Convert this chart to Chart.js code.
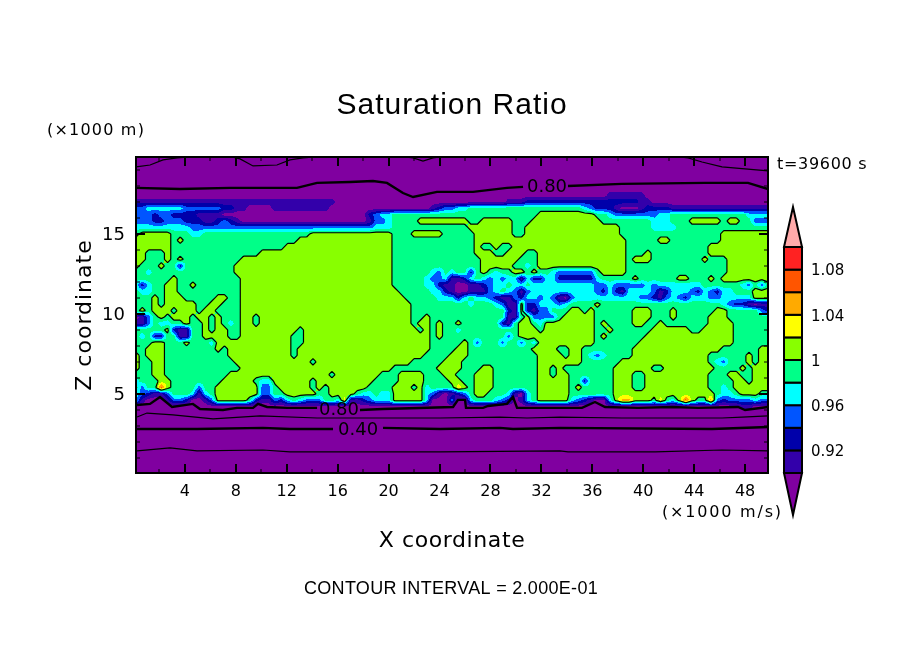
<!DOCTYPE html>
<html>
<head>
    <title>Saturation Ratio</title>
    <style>
        body { margin: 0; background: white; }
        canvas { display: block; }
    </style>
</head>
<body>
<canvas id="chart" width="904" height="654"></canvas>

<script src="https://cdn.jsdelivr.net/npm/chart.js"></script>
<script>
    const xMin = 0.157, xMax = 49.8;
    const yMin = 0.0625, yMax = 19.81;
    const xMajorTicks = [4, 8, 12, 16, 20, 24, 28, 32, 36, 40, 44, 48];
    const xMinorTicks = [2, 6, 10, 14, 18, 22, 26, 30, 34, 38, 42, 46];
    const yMajorTicks = [5, 10, 15];
    const yMinorTicks = [1, 2, 3, 4, 6, 7, 8, 9, 11, 12, 13, 14, 16, 17, 18, 19];

    const bandColors = ['#8000a0', '#3300aa', '#0000aa', '#0055ff', '#00ffff', '#00ff88',
                        '#88ff00', '#ffff00', '#ffaa00', '#ff5500', '#ff2222', '#ffaaaa'];
    const colorbarLabels = ['0.92', '0.96', '1', '1.04', '1.08'];

    // band index per grid node (0 = below 0.90 ... a = above 1.08), top row first,
    // 101 nodes across, rows 0.4 km apart. rows left out are all band 0
    const fieldRows = [
        '0', '0', '0', '0', '0', '0',
        '0000000000 0000000000 0000000000 0000000000 0000000000 0000000000 0000000000 0000011111 1000000000 0000000000 0',
        '1111111111 1111111111 1111111111 1100000000 0000000000 0000000001 1122222222 2222222222 1100000000 0000000000 0',
        '3344444433 3333221100 0011111111 1000000000 0000000123 3445555555 5555555555 5432221000 1222211111 1111111111 1',
        '3332332222 1111000000 0000000000 0000000234 4555555555 5555555555 5555666666 6665543333 3334455555 5555555444 4',
        '3332233322 2112321000 0000000000 0000000133 4555566666 6665566666 5556666666 6666555555 5544455566 6665665533 3',
        '4444444443 3333333333 3333333333 3333333344 4555555555 5556666666 5566666666 6666666555 5544445555 5555555555 5',
        '5666665554 4555555555 5555555566 6666666666 6555666665 5555666666 5566666666 6666666555 5555555555 5556666666 6',
        '6666665655 5555555555 5555556666 6666666666 6555555555 5555666666 6666666666 6666666655 5556655555 5556666666 6',
        '6666665555 5555555555 5555666666 6666666666 6555555555 5555655655 6666666666 6666666655 5555555555 5666666666 6',
        '6655565555 5555555555 6666666666 6666666666 6555555555 5555666556 6655666666 6666666655 5655555555 5666666666 6',
        '6655565655 5555555666 6666666666 6666666666 6555555555 5555566666 6555666666 6666666656 6655555555 6555666666 6',
        '6555655255 5555556666 6666666666 6666666666 6555555555 5555566666 5545666666 6666666655 5555555555 5555666666 6',
        '5545555555 5555556666 6666666666 6666666666 6555555435 4552565455 6656554333 3335666655 5555555555 5555666666 6',
        '5555556555 5555555666 6666666666 6666666666 6555554334 1124543434 4142244222 2224555556 5555556655 5656666666 6',
        '4245566556 5555555666 6666666666 6666666666 6555554421 1001123445 4454444444 4443343333 3434444444 5555554353 5',
        '5445566555 5555555666 6666666666 6666666666 6655555442 1001113454 3134444444 4443242144 4431244432 4324455566 6',
        '5556566655 5556655666 6666666666 6666666666 6665555544 4245443211 3244343103 4444444444 3321343244 4334444466 6',
        '5556566666 5566555666 6666666666 6666666666 6666555555 5554555431 1622444345 5556555555 5555555555 5554322101 1',
        '5656665666 5665555666 6666666666 6666666666 6666555555 5555555552 1621335556 6565555556 6655565555 5566555553 2',
        '0135656665 6656555665 6666666666 6666666666 6666556555 5555555551 1563333566 6665555556 6655565555 5666555555 5',
        '1135445565 5656545665 6666666666 6666666666 6666566565 5655555521 5665466666 6665655556 6556555555 5666655555 5',
        '5555562115 5656655666 6666665666 6666666666 6666656565 5455555555 5666566666 6665565555 5566666655 6666655555 5',
        '5452255115 5666655666 6666655666 6666666666 6666666565 5555555553 5666666666 6665655555 5666666666 6666655555 5',
        '5556655565 5546666666 6666655666 6666666666 6666666555 5565355535 5354666666 6665555555 6666666666 6666655555 5',
        '5566655555 5556566666 6666656666 6666666666 6666666555 5665555555 5556666556 6555555556 6666666666 6665555556 6',
        '6566655555 5555566666 6666656666 6666666666 6666665555 6665555555 5555666656 6543455556 6666666666 6555555656 6',
        '6556655555 5555556666 6666666656 6666666666 6666555556 6655555555 5555666666 6555555666 6666666666 6543555656 6',
        '6556655555 5555555666 6666666666 6666666666 6555555566 6655566555 5555665655 5555556666 6655666666 6655556566 6',
        '5556655555 5555566666 6666666666 6566666665 5566665556 6555666555 5555665665 5555556665 5666666666 6555665566 6',
        '4555665555 5555666665 4466666656 6666666655 5566665555 6655666555 5555666665 5255556665 5666666666 6555566566 6',
        '5355965555 3556666666 3356666656 5666666555 5666564555 5765666555 5555666665 6555556665 5666666666 6554566666 6',
        '4321135554 1456666666 3355666665 5666654454 4666664310 1235665554 1045666665 5555556666 6666666666 6654456665 5',
        '4100013320 0136666652 1132454333 5547112344 4666664000 3004555432 0145666664 3210046886 6657546965 5832333343 3',
        '0000000000 0000000000 0000000000 0000000000 0000000000 0000000000 0000000000 0000000000 0000000000 0000001100 0'
    ].map(r => r.replace(/ /g, ''));

    // contour lines, NaN leaves a gap
    const topThinX = [0.16, 1.26, 2.28, 3.38, 4.4, NaN, 7.7, 8.33, 9.35, 11.23, 12.25, 13.28, 14.2, NaN, 21.29, 21.92, 22.7, 23.49, 24.04, NaN, 42.89, 43.52, 44.62, 46.19, 49.8];
    const topThinY = [19.19, 19.31, 19.63, 19.75, 19.81, NaN, 19.81, 19.69, 19.25, 19.31, 19.63, 19.75, 19.81, NaN, 19.81, 19.75, 19.56, 19.75, 19.81, NaN, 19.81, 19.75, 19.5, 19.19, 18.94];
    const top080X = [0.16, 3.61, 7.54, 12.8, 14.38, 16.97, 18.77, 19.87, 21.13, 21.92, 23.8, 26.63, 29.3, 30.56, NaN, 34.09, 38.33, 44.85, 48.23, 49.8];
    const top080Y = [17.88, 17.81, 17.88, 17.88, 18.19, 18.25, 18.31, 18.19, 17.56, 17.31, 17.63, 17.63, 17.88, 17.94, NaN, 18, 18.13, 18.19, 18.19, 17.81];
    const low080X = [0.24, 1.26, 2.04, 2.99, 4.63, 5.18, 6.99, 8.09, 9.35, 9.74, 10.45, 12.02, 14.38, NaN, 17.75, 19.56, 25.06, 25.45, 26, 26.08, 27.42, 27.81, 29.3, 29.77, 30.09, 33.46, 35.19, 36.21, 37, 39.59, 42.26, 44.3, 47.45, 48, 49.8];
    const low080Y = [4.31, 4.38, 4.81, 4.19, 4.38, 4.06, 4, 4.13, 4.13, 4.38, 4.19, 4.13, 4.13, NaN, 4, 4.06, 4.19, 4.63, 4.63, 4.13, 4.13, 4.25, 4.38, 4.81, 4.13, 4.13, 4.13, 4.5, 4.19, 4.13, 4.19, 4.13, 4.19, 4, 4.19];
    const low060X = [0.24, 1.02, 3.06, 6.21, 9.9, 14.38, 24.04, 28.75, 30.87, 33.46, 38.33, 46.19, 47.76, 49.8];
    const low060Y = [3.56, 3.81, 3.69, 3.44, 3.63, 3.5, 3.5, 3.56, 3.5, 3.56, 3.5, 3.5, 3.56, 3.63];
    const low040X = [0.24, 4.95, 10.13, 12.25, 15.63, NaN, 19.56, 24.04, 28.75, 29.77, 33.46, 45.4, 49.8];
    const low040Y = [2.81, 2.81, 2.88, 2.81, 2.81, NaN, 2.88, 2.81, 2.88, 2.81, 2.88, 2.81, 2.94];
    const low020X = [0.24, 2.83, 4.95, 10.13, 12.25, 16.97, 24.04, 33.46, 34.09, 40.93, 46.19, 49.8];
    const low020Y = [1.44, 1.63, 1.44, 1.5, 1.38, 1.38, 1.38, 1.44, 1.38, 1.38, 1.5, 1.44];

    const contourLabels = [
        { text: '0.80', x: 32.44, y: 18 },
        { text: '0.80', x: 16.1, y: 4.06 },
        { text: '0.40', x: 17.6, y: 2.81 }
    ];

    const nodeCols = 101;
    const nodeDx = (xMax - xMin) / (nodeCols - 1);
    const nodeDy = 0.4;

    function nodeValue(i, j) {
        const row = fieldRows[i];
        if (!row || j >= row.length) return 0;
        return parseInt(row[j], 16);
    }

    function fieldAt(col, row) {
        const i = Math.floor(row), j = Math.min(Math.floor(col), nodeCols - 2);
        const fx = col - j, fy = row - i;
        const top = nodeValue(i, j) * (1 - fx) + nodeValue(i, j + 1) * fx;
        const bottom = nodeValue(i + 1, j) * (1 - fx) + nodeValue(i + 1, j + 1) * fx;
        return top * (1 - fy) + bottom * fy;
    }

    // 1.0 contour: the edge between band 5 and band 6
    function contourPoints(level) {
        const pts = [];
        const xAt = c => xMin + c * nodeDx;
        const yAt = r => yMax - r * nodeDy;
        for (let i = 0; i < fieldRows.length; i++) {
            for (let j = 0; j < nodeCols - 1; j++) {
                const a = nodeValue(i, j), b = nodeValue(i, j + 1);
                const c = nodeValue(i + 1, j + 1), d = nodeValue(i + 1, j);
                const cross = [];
                if ((a > level) !== (b > level)) cross.push({ x: xAt(j + (level - a) / (b - a)), y: yAt(i) });
                if ((b > level) !== (c > level)) cross.push({ x: xAt(j + 1), y: yAt(i + (level - b) / (c - b)) });
                if ((d > level) !== (c > level)) cross.push({ x: xAt(j + (level - d) / (c - d)), y: yAt(i + 1) });
                if ((a > level) !== (d > level)) cross.push({ x: xAt(j), y: yAt(i + (level - a) / (d - a)) });
                for (let k = 0; k + 1 < cross.length; k += 2) {
                    pts.push(cross[k], cross[k + 1], { x: NaN, y: NaN });
                }
            }
        }
        return pts;
    }

    function lineSet(xs, ys, width) {
        return {
            data: xs.map((x, i) => ({ x: x, y: ys[i] })),
            showLine: true,
            spanGaps: false,
            borderColor: '#000',
            borderWidth: width,
            pointRadius: 0,
            tension: 0
        };
    }

    const fieldPlugin = {
        id: 'field',
        beforeDatasetsDraw(chart) {
            const ctx = chart.ctx, area = chart.chartArea;
            const sx = chart.scales.x, sy = chart.scales.y;
            ctx.save();
            ctx.fillStyle = bandColors[0];
            ctx.fillRect(area.left, area.top, area.right - area.left, area.bottom - area.top);
            for (let py = Math.floor(area.top); py < area.bottom; py++) {
                const row = (yMax - sy.getValueForPixel(py + 0.5)) / nodeDy;
                if (row < 0 || row >= fieldRows.length) continue;
                let start = Math.floor(area.left), band = -1;
                for (let px = start; px <= area.right; px++) {
                    let b = -2;
                    if (px < area.right) {
                        const col = Math.max(0, (sx.getValueForPixel(px + 0.5) - xMin) / nodeDx);
                        b = Math.round(fieldAt(col, row));
                    }
                    if (b !== band) {
                        if (band > 0) {
                            ctx.fillStyle = bandColors[band];
                            ctx.fillRect(start, py, px - start, 1);
                        }
                        start = px;
                        band = b;
                    }
                }
            }
            ctx.restore();
        }
    };

    function drawTicks(chart, values, length, width) {
        const ctx = chart.ctx, area = chart.chartArea;
        ctx.lineWidth = width;
        ctx.beginPath();
        values.x.forEach(v => {
            const p = Math.round(chart.scales.x.getPixelForValue(v));
            ctx.moveTo(p, area.top);
            ctx.lineTo(p, area.top + length);
            ctx.moveTo(p, area.bottom);
            ctx.lineTo(p, area.bottom - length);
        });
        values.y.forEach(v => {
            const p = Math.round(chart.scales.y.getPixelForValue(v));
            ctx.moveTo(area.left, p);
            ctx.lineTo(area.left + length, p);
            ctx.moveTo(area.right, p);
            ctx.lineTo(area.right - length, p);
        });
        ctx.stroke();
    }

    function drawColorbar(ctx) {
        const left = 784, right = 802, top = 247, segH = 22.6;
        const mid = (left + right) / 2;
        ctx.strokeStyle = '#000';
        ctx.lineWidth = 2;
        // bands 1..10 from the bottom of the bar up
        for (let b = 1; b <= 10; b++) {
            const y = top + (10 - b) * segH;
            ctx.fillStyle = bandColors[b];
            ctx.fillRect(left, y, right - left, segH);
            ctx.strokeRect(left, y, right - left, segH);
        }
        ctx.fillStyle = bandColors[11];
        ctx.beginPath();
        ctx.moveTo(left, top); ctx.lineTo(mid, 207); ctx.lineTo(right, top); ctx.closePath();
        ctx.fill(); ctx.stroke();
        ctx.fillStyle = bandColors[0];
        ctx.beginPath();
        ctx.moveTo(left, top + 10 * segH); ctx.lineTo(mid, 515); ctx.lineTo(right, top + 10 * segH); ctx.closePath();
        ctx.fill(); ctx.stroke();

        ctx.fillStyle = '#000';
        ctx.font = '15px "DejaVu Sans"';
        ctx.textAlign = 'left';
        ctx.textBaseline = 'middle';
        colorbarLabels.forEach((t, i) => {
            ctx.fillText(t, 811, top + (9 - 2 * i) * segH + 2);
        });
    }

    function drawText(ctx, text, x, y, font, spacing) {
        ctx.font = font;
        ctx.letterSpacing = spacing || '0px';
        ctx.fillText(text, x, y);
        ctx.letterSpacing = '0px';
    }

    const framePlugin = {
        id: 'frame',
        afterDraw(chart) {
            const ctx = chart.ctx, area = chart.chartArea;
            ctx.save();
            ctx.strokeStyle = '#000';
            ctx.fillStyle = '#000';
            drawTicks(chart, { x: xMajorTicks, y: yMajorTicks }, 9, 2);
            drawTicks(chart, { x: xMinorTicks, y: yMinorTicks }, 4, 1);
            ctx.lineWidth = 2;
            ctx.strokeRect(area.left, area.top, area.right - area.left, area.bottom - area.top);

            ctx.textAlign = 'center';
            ctx.textBaseline = 'middle';
            contourLabels.forEach(l => {
                drawText(ctx, l.text, chart.scales.x.getPixelForValue(l.x), chart.scales.y.getPixelForValue(l.y) + 1, '18px "DejaVu Sans"');
            });

            drawText(ctx, 'Saturation Ratio', 452, 106, '30px "Liberation Sans"', '1px');
            drawText(ctx, 'X coordinate', 452, 541, '22px "DejaVu Sans"', '0.6px');
            drawText(ctx, 'CONTOUR INTERVAL = 2.000E-01', 451, 589, '18px "Liberation Sans"', '0.3px');
            ctx.textAlign = 'left';
            drawText(ctx, '(\u00d71000 m)', 47, 131, '16px "DejaVu Sans"', '1.2px');
            drawText(ctx, 't=39600 s', 777, 165, '16px "DejaVu Sans"', '0.7px');
            drawText(ctx, '(\u00d71000 m/s)', 662, 513, '16px "DejaVu Sans"', '1.8px');

            ctx.save();
            ctx.translate(85, 315);
            ctx.rotate(-Math.PI / 2);
            ctx.textAlign = 'center';
            drawText(ctx, 'Z coordinate', 0, 0, '22px "DejaVu Sans"', '1px');
            ctx.restore();

            drawColorbar(ctx);
            ctx.restore();
        }
    };

    new Chart(document.getElementById('chart'), {
        type: 'scatter',
        data: {
            datasets: [
                { data: contourPoints(5.5), showLine: true, spanGaps: false, borderColor: '#000', borderWidth: 1.2, pointRadius: 0 },
                lineSet(topThinX, topThinY, 1.2),
                lineSet(top080X, top080Y, 2.4),
                lineSet(low080X, low080Y, 2.4),
                lineSet(low060X, low060Y, 1.2),
                lineSet(low040X, low040Y, 2.4),
                lineSet(low020X, low020Y, 1.2)
            ]
        },
        plugins: [fieldPlugin, framePlugin],
        options: {
            responsive: false,
            animation: false,
            devicePixelRatio: 1,
            layout: { padding: { top: 157, right: 136, left: 0, bottom: 0 } },
            plugins: { legend: { display: false }, tooltip: { enabled: false } },
            scales: {
                x: {
                    type: 'linear',
                    min: xMin,
                    max: xMax,
                    grid: { display: false },
                    border: { display: false },
                    afterBuildTicks: scale => { scale.ticks = xMajorTicks.map(v => ({ value: v })); },
                    afterFit: scale => { scale.height = 181; },
                    ticks: {
                        autoSkip: false,
                        maxRotation: 0,
                        padding: 1,
                        color: '#000',
                        font: { family: 'DejaVu Sans', size: 16 },
                        callback: v => String(v)
                    }
                },
                y: {
                    type: 'linear',
                    min: yMin,
                    max: yMax,
                    grid: { display: false },
                    border: { display: false },
                    afterBuildTicks: scale => { scale.ticks = yMajorTicks.map(v => ({ value: v })); },
                    afterFit: scale => { scale.width = 136; },
                    ticks: {
                        padding: 3,
                        labelOffset: 1,
                        color: '#000',
                        font: { family: 'DejaVu Sans', size: 18 },
                        callback: v => String(v)
                    }
                }
            }
        }
    });
</script>
</body>
</html>
